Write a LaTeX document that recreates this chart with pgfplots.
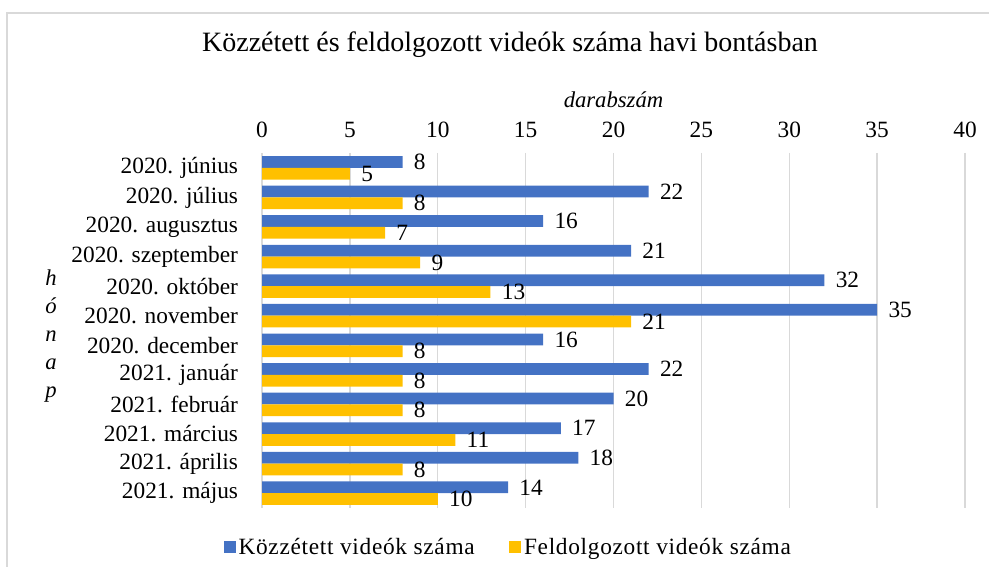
\documentclass[border=0pt]{standalone}
\usepackage{pgfplots}
\pgfplotsset{compat=1.18}
\usepackage{fontspec}
\setmainfont{Liberation Serif}
\definecolor{cblue}{HTML}{4472C4}
\definecolor{cgold}{HTML}{FFC000}
\definecolor{cgrid}{HTML}{D9D9D9}
\begin{document}
\begin{tikzpicture}[x=0.75pt,y=0.75pt]
\useasboundingbox (0,0) rectangle (989,567);
\coordinate (AX) at (262,59);
\draw[cgrid, line width=1.3pt] (7,-5) -- (7,554) -- (995,554);
\node[font=\fontsize{21}{25}\selectfont] at (510,522) {Közzétett és feldolgozott videók száma havi bontásban};
\node[font=\itshape\fontsize{17}{21}\selectfont, align=center] at (51,231) {h\\ó\\n\\a\\p};
\begin{axis}[
  at={(AX)}, anchor=south west, scale only axis,
  width=527.25pt, height=266.25pt,
  xbar, bar width=8.8pt,
  y dir=reverse, ymin=-0.5, ymax=11.5, xmin=0, xmax=40,
  ytick={0,...,11},
  yticklabels={2020. június,2020. július,2020. augusztus,2020. szeptember,2020. október,2020. november,2020. december,2021. január,2021. február,2021. március,2021. április,2021. május},
  ytick style={draw=none},
  extra y ticks={-0.5,0.5,...,11.5},
  extra y tick labels={},
  extra y tick style={tick style={draw=cgrid, line width=1.1pt}, major tick length=5pt, tick align=outside, ymajorgrids=false},
  xtick={0,5,...,40},
  xtick style={draw=none},
  xticklabel pos=upper,
  xmajorgrids, grid style={cgrid, line width=1.1pt},
  axis line style={draw=none},
  tick label style={font=\fontsize{17.5}{20}\selectfont},
  /pgf/number format/assume math mode=true,
  xticklabel style={anchor=center, yshift=17.25pt},
  yticklabel style={anchor=east, xshift=-10.2pt},
  xlabel={darabszám},
  xlabel style={font=\itshape\fontsize{17}{20}\selectfont, at={(axis description cs:0.5,1)}, anchor=center, yshift=39.75pt},
  nodes near coords,
  nodes near coords style={font=\fontsize{17.5}{20}\selectfont, anchor=west, xshift=5pt, text=black},
  legend style={at={(axis description cs:0.351,-0.11)}, anchor=center, draw=none, legend columns=2, font=\fontsize{17.5}{20}\selectfont\addfontfeature{LetterSpace=3.0}, /tikz/every even column/.append style={column sep=24pt}},
  legend image code/.code={\fill[#1] (0pt,-4.5pt) rectangle (9pt,4.5pt);},
]
\addplot[fill=cblue, draw=none, bar shift=4.4pt] coordinates {
(8,0) (22,1) (16,2) (21,3) (32,4) (35,5) (16,6) (22,7) (20,8) (17,9) (18,10) (14,11)};
\addlegendentry{Közzétett videók száma}
\addplot[fill=cgold, draw=none, bar shift=-4.4pt] coordinates {
(5,0) (8,1) (7,2) (9,3) (13,4) (21,5) (8,6) (8,7) (8,8) (11,9) (8,10) (10,11)};
\addlegendentry{Feldolgozott videók száma}
\end{axis}
\end{tikzpicture}
\end{document}
